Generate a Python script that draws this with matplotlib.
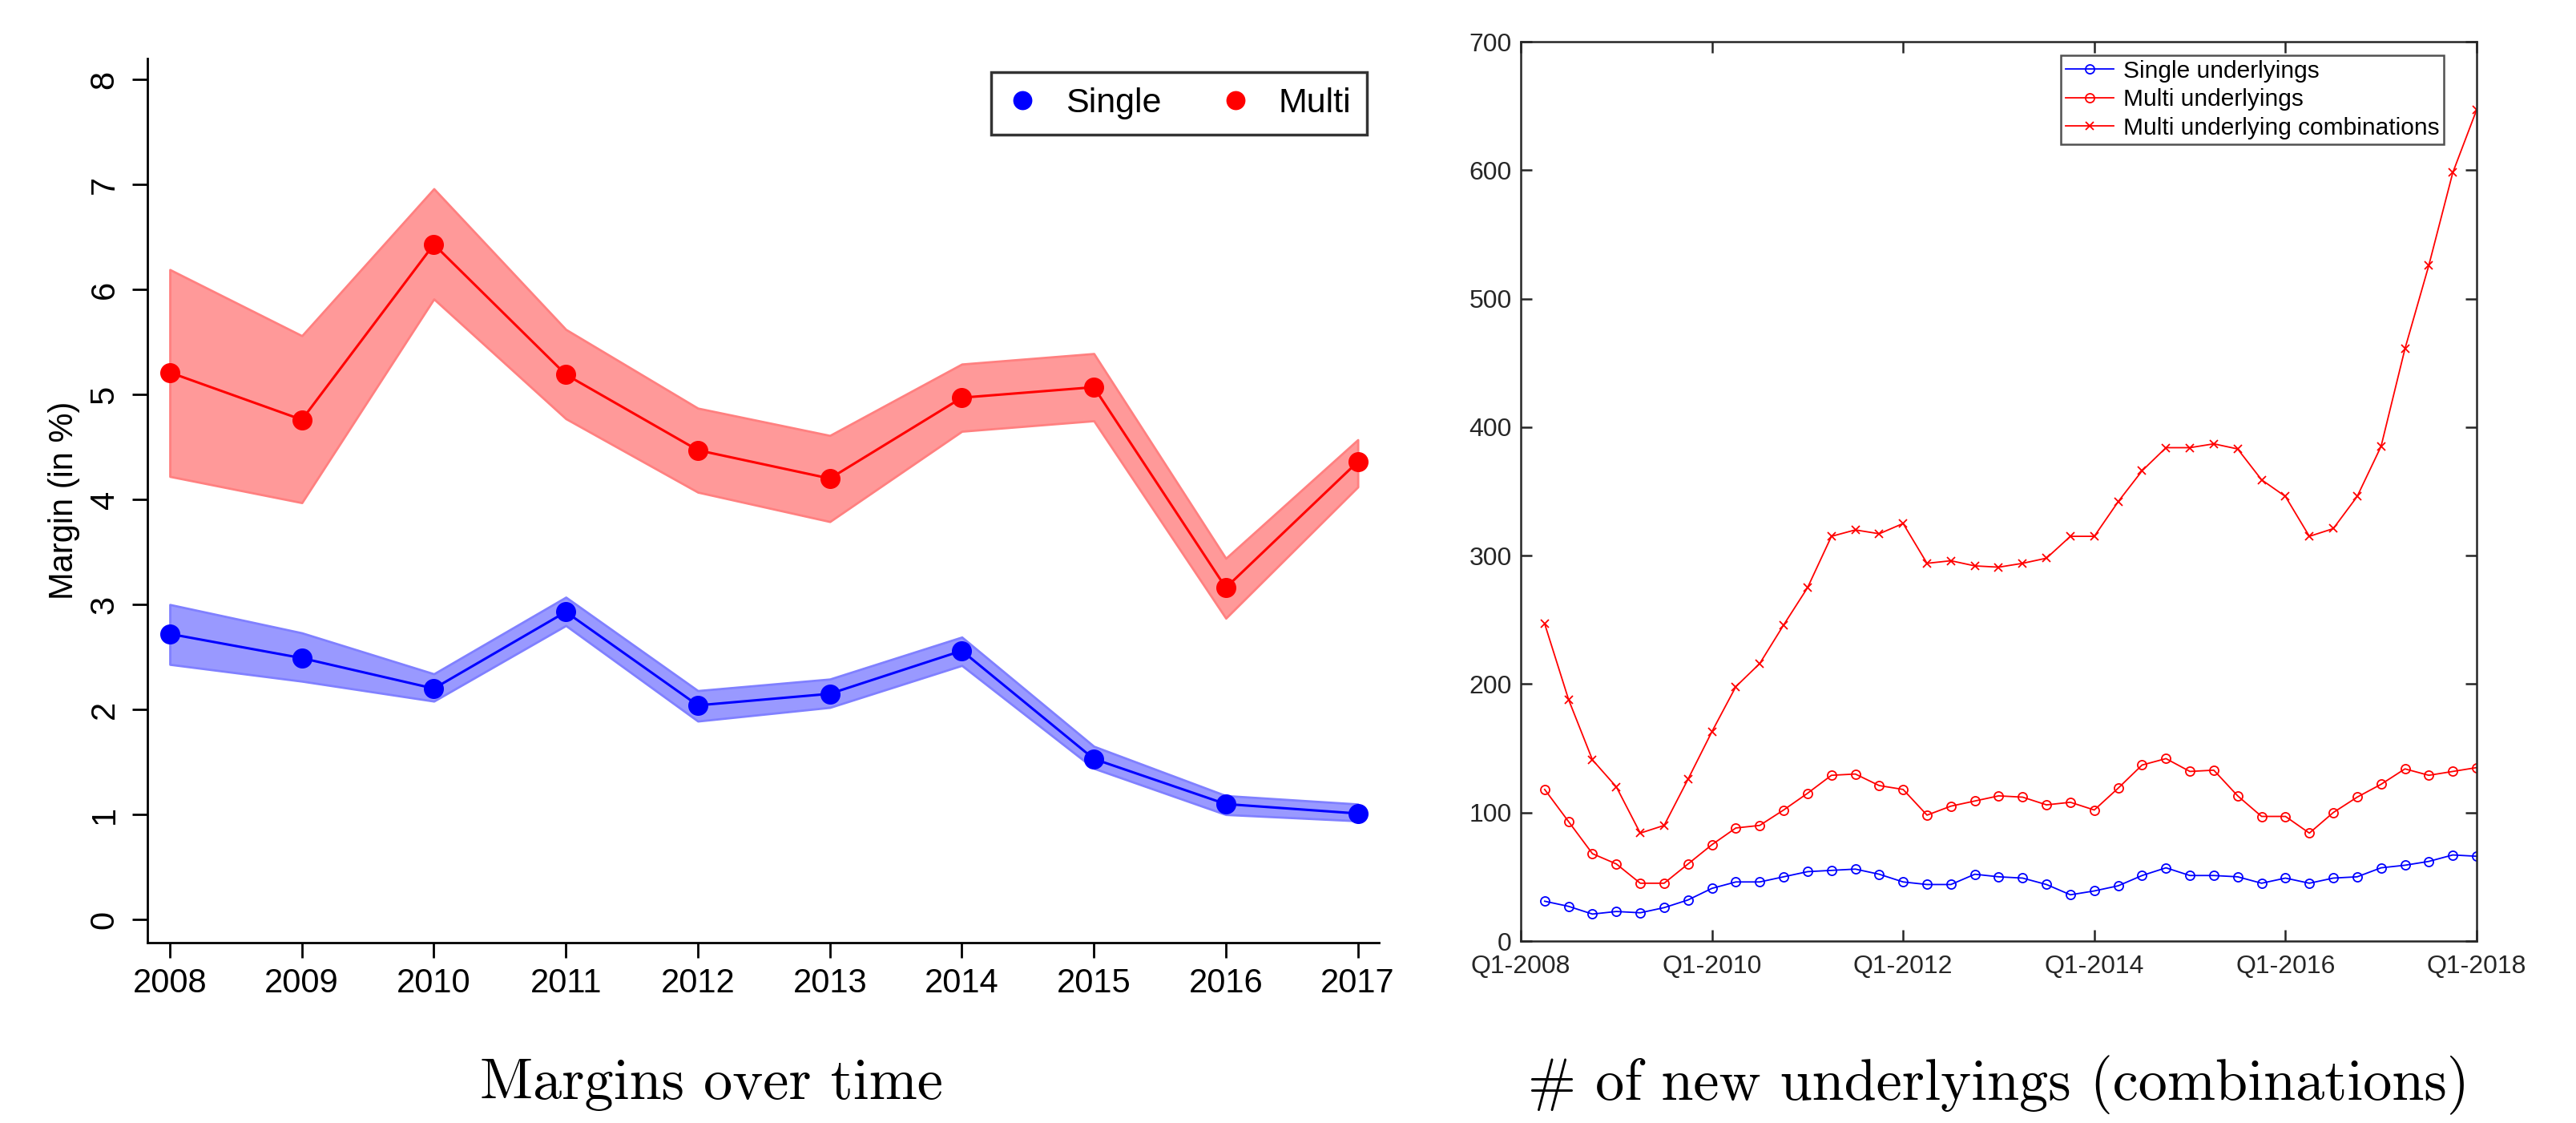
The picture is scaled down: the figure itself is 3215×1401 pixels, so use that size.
import matplotlib
matplotlib.use("Agg")
import matplotlib.pyplot as plt
import numpy as np

# yearly margins (in %) with confidence band
years = [2008, 2009, 2010, 2011, 2012, 2013, 2014, 2015, 2016, 2017]
single_margin = [2.72, 2.49, 2.20, 2.93, 2.04, 2.15, 2.56, 1.53, 1.10, 1.01]
single_upper = [3.00, 2.73, 2.34, 3.07, 2.18, 2.29, 2.69, 1.65, 1.18, 1.10]
single_lower = [2.43, 2.27, 2.08, 2.80, 1.89, 2.02, 2.42, 1.44, 1.00, 0.94]
multi_margin = [5.21, 4.76, 6.43, 5.19, 4.47, 4.20, 4.97, 5.07, 3.16, 4.36]
multi_upper = [6.19, 5.56, 6.96, 5.62, 4.87, 4.61, 5.29, 5.39, 3.44, 4.57]
multi_lower = [4.22, 3.97, 5.91, 4.77, 4.07, 3.79, 4.65, 4.75, 2.87, 4.12]

# quarterly counts of new underlyings, Q2-2008 .. Q1-2018
single_under = [31, 27, 21, 23, 22, 26, 32, 41, 46, 46,
                50, 54, 55, 56, 52, 46, 44, 44, 52, 50,
                49, 44, 36, 39, 43, 51, 57, 51, 51, 50,
                45, 49, 45, 49, 50, 57, 59, 62, 67, 66]
multi_under = [118, 93, 68, 60, 45, 45, 60, 75, 88, 90,
               102, 115, 129, 130, 121, 118, 98, 105, 109, 113,
               112, 106, 108, 102, 119, 137, 142, 132, 133, 113,
               97, 97, 84, 100, 112, 122, 134, 129, 132, 135]
multi_comb = [247, 188, 141, 120, 84, 90, 126, 163, 198, 216,
              246, 275, 315, 320, 317, 325, 294, 296, 292, 291,
              294, 298, 315, 315, 342, 366, 384, 384, 387, 383,
              359, 346, 315, 321, 346, 385, 461, 526, 598, 647]
quarter_ticks = ["Q1-2008", "Q1-2010", "Q1-2012", "Q1-2014", "Q1-2016", "Q1-2018"]

W, H = 3216, 1401
fig = plt.figure(figsize=(W / 100, H / 100), dpi=100)

# ---- left panel: margins over time ----
ax1 = fig.add_axes([184 / W, 1 - 1176 / H, 1537 / W, 1103 / H])
ax1.fill_between(years, single_lower, single_upper, facecolor=(0.6, 0.6, 1.0),
                 edgecolor=(0.5, 0.5, 1.0), lw=2)
ax1.fill_between(years, multi_lower, multi_upper, facecolor=(1.0, 0.6, 0.6),
                 edgecolor=(1.0, 0.5, 0.5), lw=2)
ax1.plot(years, single_margin, color="blue", lw=2.2, marker="o", ms=17,
         label="Single")
ax1.plot(years, multi_margin, color="red", lw=2.2, marker="o", ms=17,
         label="Multi")

ax1.set_xlim(2007.83, 2017.16)
ax1.set_ylim(-0.22, 8.2)
ax1.set_xticks(years)
ax1.set_yticks(range(0, 9))
for s in ["top", "right"]:
    ax1.spines[s].set_visible(False)
for s in ["left", "bottom"]:
    ax1.spines[s].set_linewidth(2)
ax1.tick_params(axis="both", length=14, width=2, labelsize=30, direction="out")
ax1.tick_params(axis="x", pad=8)
ax1.tick_params(axis="y", pad=10)
for lbl in ax1.get_yticklabels():
    lbl.set_rotation(90)
    lbl.set_va("center")
for lbl in ax1.get_xticklabels() + ax1.get_yticklabels():
    lbl.set_family("Liberation Sans")
ax1.set_ylabel("Margin (in %)", fontsize=30, family="Liberation Sans", labelpad=8)

leg1 = ax1.legend(loc="upper right", bbox_to_anchor=(0.99, 0.985), ncol=2,
                  prop={"family": "Liberation Sans", "size": 31},
                  fancybox=False, frameon=True, handlelength=0.9,
                  handletextpad=0.8, columnspacing=1.7, borderpad=0.45,
                  markerscale=0.95, borderaxespad=0)
for h in leg1.legend_handles:
    h.set_linestyle("none")
leg1.get_frame().set_edgecolor("black")
leg1.get_frame().set_linewidth(2.5)

# ---- right panel: number of new underlyings ----
grey = "#262626"
x = np.arange(1, len(multi_comb) + 1)
ax2 = fig.add_axes([1898 / W, 1 - 1174 / H, 1193 / W, 1122 / H])
ax2.plot(x, single_under, color="blue", lw=1.3, marker="o", ms=8,
         mfc="none", mew=1.3, label="Single underlyings")
ax2.plot(x, multi_under, color="red", lw=1.3, marker="o", ms=8,
         mfc="none", mew=1.3, label="Multi underlyings")
ax2.plot(x, multi_comb, color="red", lw=1.3, marker="x", ms=7,
         mew=1.3, label="Multi underlying combinations")

ax2.set_xlim(0, 40)
ax2.set_ylim(0, 700)
ax2.set_xticks(range(0, 41, 8))
ax2.set_xticklabels(quarter_ticks)
ax2.set_yticks(range(0, 701, 100))
for s in ax2.spines.values():
    s.set_color(grey)
    s.set_linewidth(1.8)
ax2.tick_params(axis="both", direction="in", length=10, width=1.8,
                colors=grey, labelsize=23, top=True, right=True)
ax2.tick_params(axis="x", pad=12)
ax2.tick_params(axis="y", pad=8)
for lbl in ax2.get_xticklabels() + ax2.get_yticklabels():
    lbl.set_family("Liberation Sans")

leg2 = ax2.legend(loc="upper right", bbox_to_anchor=(0.966, 0.985),
                  prop={"family": "Liberation Sans", "size": 21.5},
                  fancybox=False, frameon=True, handlelength=2.0,
                  handletextpad=0.4, borderpad=0.2, labelspacing=0.25,
                  borderaxespad=0)
leg2.get_frame().set_edgecolor(grey)
leg2.get_frame().set_linewidth(1.8)

# ---- panel captions ----
fig.text(888 / W, 1 - 1354 / H, "Margins over time", family="cmr10",
         fontsize=52, ha="center", va="center")
fig.text(2494 / W, 1 - 1354 / H, "# of new underlyings (combinations)",
         family="cmr10", fontsize=52, ha="center", va="center")

fig.savefig("out.png", dpi=100)
